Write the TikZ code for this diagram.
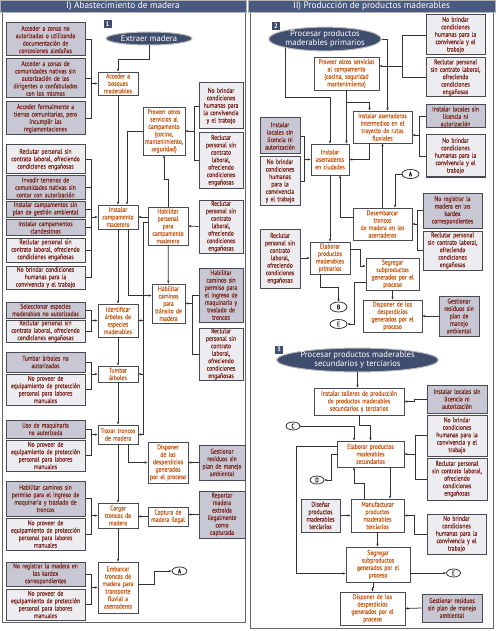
\documentclass[tikz,border=0pt]{standalone}
\usepackage{fontspec}
\setmainfont{PT Sans}
\newfontfamily\condfont{PT Sans}[FakeStretch=0.82, FakeBold=0.4]
\usetikzlibrary{arrows.meta, positioning, shapes.geometric, calc}
\definecolor{navy}{HTML}{3F4D6E}
\definecolor{hdrfill}{HTML}{4A5A7E}
\definecolor{dkfill}{HTML}{C8C8D4}
\definecolor{ltfill}{HTML}{ECECF1}
\definecolor{boxline}{HTML}{4A4A55}
\definecolor{lc}{HTML}{333333}
\definecolor{risk}{HTML}{7D2C22}
\definecolor{proc}{HTML}{C85E1C}
\newcommand\boxfont{\condfont\fontsize{6.9}{7.45}\selectfont}

\begin{document}
\begin{tikzpicture}[x=1pt, y=-1pt,
  base/.style={draw, inner xsep=0pt, inner ysep=0.3pt, align=center, font=\boxfont},
  dk/.style={base, fill=dkfill, draw=boxline, line width=1pt, text=risk},
  lt/.style={base, fill=ltfill, draw=boxline, line width=1pt, text=risk},
  pr/.style={base, fill=white, draw=boxline, line width=0.8pt, text=proc},
  sz/.style 2 args={text width=#1, minimum height=#2},
  ell/.style={ellipse, fill=navy, draw=gray!55, line width=1pt, text=white, inner sep=0pt,
    align=center, font=\fontsize{8.6}{9}\selectfont},
  circ/.style={ellipse, draw=lc, line width=0.8pt, fill=white, inner sep=0pt, text=black,
    font=\condfont\fontsize{6.5}{6.5}\selectfont},
  badge/.style={fill=navy, text=white, minimum size=8pt, inner sep=0pt,
    font=\bfseries\fontsize{6.5}{6.5}\selectfont},
  hdr/.style={fill=hdrfill, draw=gray!60, text=white, minimum height=12pt, inner sep=0pt,
    font=\fontsize{9.3}{10}\selectfont},
  frame/.style={draw=gray!80!black, line width=1pt},
  ln/.style={draw=lc, line width=0.75pt},
  arr/.style={ln, -{Stealth[length=3pt, width=2.4pt]}}
]
\useasboundingbox (0,0) rectangle (495,631);

% panels
\draw[frame] (2,0) rectangle (245,622);
\draw[frame] (250,0) rectangle (493,628);
\node[hdr, minimum width=246pt] (hI) at (123,6) {I) Abastecimiento de madera};
\node[hdr, minimum width=247pt] (hII) at (371.5,6) {II) Producción de productos maderables};

% ---------- I) Abastecimiento ----------
\node[badge] (n1) at (107.5,24.5) {1};
\node[ell, minimum width=86pt, minimum height=13pt] (ext) at (149,38.5) {Extraer madera};

\node[dk, sz={79pt}{33pt}] (lA1) at (45.5,39.5) {Acceder a zonas no\\autorizadas o utilizando\\documentación de\\concesiones aledañas};
\node[dk, sz={79pt}{39pt}] (lA2) at (45.5,78.5) {Acceder a zonas de\\comunidades nativas sin\\autorización de los\\dirigentes o confabulados\\con los mismos};
\node[dk, sz={79pt}{33pt}] (lA3) at (45.5,118.5) {Acceder formalmente a\\tierras comunitarias, pero\\incumplir las\\reglamentaciones};
\node[lt, sz={79pt}{29pt}] (lI1) at (45.5,159.5) {Reclutar personal sin\\contrato laboral, ofreciendo\\condiciones engañosas};
\node[dk, sz={79pt}{23pt}] (lI2) at (45.5,187.5) {Invadir terrenos de\\comunidades nativas sin\\contar con autorización};
\node[dk, sz={79pt}{16pt}] (lI3) at (45.5,209) {Instalar campamentos sin\\plan de gestión ambiental};
\node[dk, sz={79pt}{16pt}] (lI4) at (45.5,227.5) {Instalar campamentos\\clandestinos};
\node[lt, sz={79pt}{24pt}] (lI5) at (45.5,250) {Reclutar personal sin\\contrato laboral, ofreciendo\\condiciones engañosas};
\node[lt, sz={79pt}{23pt}] (lI6) at (45.5,277.5) {No brindar condiciones\\humanas para la\\convivencia y el trabajo};
\node[dk, sz={79pt}{16pt}] (lS1) at (45.5,310) {Seleccionar especies\\maderables no autorizadas};
\node[lt, sz={79pt}{22pt}] (lS2) at (45.5,331) {Reclutar personal sin\\contrato laboral, ofreciendo\\condiciones engañosas};
\node[dk, sz={79pt}{20pt}] (lT1) at (45.5,362) {Tumbar árboles no\\autorizados};
\node[lt, sz={79pt}{31pt}] (lT2) at (45.5,389.5) {No proveer de\\equipamiento de protección\\personal para labores\\manuales};
\node[dk, sz={79pt}{18pt}] (lZ1) at (45.5,429) {Uso de maquinaria\\no autorizada};
\node[lt, sz={79pt}{31pt}] (lZ2) at (45.5,455.5) {No proveer de\\equipamiento de protección\\personal para labores\\manuales};
\node[dk, sz={79pt}{35pt}] (lC1) at (45.5,498.5) {Habilitar caminos sin\\permiso para el ingreso de\\maquinaria y traslado de\\troncos};
\node[lt, sz={79pt}{32pt}] (lC2) at (45.5,534) {No proveer de\\equipamiento de protección\\personal para labores\\manuales};
\node[dk, sz={79pt}{24pt}] (lE1) at (45.5,574) {No registrar la madera en\\los kardex\\correspondientes};
\node[lt, sz={79pt}{31pt}] (lE2) at (45.5,604.5) {No proveer de\\equipamiento de protección\\personal para labores\\manuales};

\node[pr, sz={40pt}{23pt}] (acc) at (118,83.5) {Acceder a\\bosques\\maderables};
\node[pr, sz={40pt}{24pt}] (inst) at (118,217) {Instalar\\campamento\\maderero};
\node[pr, sz={40pt}{33pt}] (iden) at (118,320.5) {Identificar\\árboles de\\especies\\maderables};
\node[pr, sz={40pt}{16pt}] (tumb) at (118,374) {Tumbar\\árboles};
\node[pr, sz={40pt}{19pt}] (troz) at (118,434.5) {Trozar troncos\\de madera};
\node[pr, sz={40pt}{25pt}] (carg) at (118,515.5) {Cargar\\troncos de\\madera};
\node[pr, sz={40pt}{51pt}] (emb) at (118,587.5) {Embarcar\\troncos de\\madera para\\transporte\\fluvial a\\aserraderos};

\node[pr, sz={42pt}{48pt}] (prov) at (164,131) {Proveer otros\\servicios al\\campamento\\(cocina,\\mantenimiento,\\seguridad)};
\node[pr, sz={40pt}{38pt}] (hper) at (168,226) {Habilitar\\personal\\para\\campamento\\maderero};
\node[pr, sz={33pt}{39pt}] (hcam) at (168.5,303.5) {Habilitar\\caminos\\para\\tránsito de\\madera};
\node[pr, sz={40pt}{41pt}] (disp) at (168,462.5) {Disponer\\de los\\desperdicios\\generados\\por el proceso};
\node[pr, sz={40pt}{19pt}] (capt) at (168,516.5) {Captura de\\madera ilegal};
\node[circ, minimum width=15pt, minimum height=8pt] (cA) at (179.5,571) {A};

\node[lt, sz={44pt}{46pt}] (rP1) at (221,106) {No brindar\\condiciones\\humanas para\\la convivencia\\y el trabajo};
\node[lt, sz={44pt}{55pt}] (rP2) at (221,160.5) {Reclutar\\personal sin\\contrato\\laboral,\\ofreciendo\\condiciones\\engañosas};
\node[lt, sz={44pt}{53pt}] (rH) at (221,226.5) {Reclutar\\personal sin\\contrato\\laboral,\\ofreciendo\\condiciones\\engañosas};
\node[dk, sz={44pt}{54pt}] (rC1) at (221,295) {Habilitar\\caminos sin\\permiso para\\el ingreso de\\maquinaria y\\traslado de\\troncos};
\node[lt, sz={44pt}{52pt}] (rC2) at (221,354) {Reclutar\\personal sin\\contrato\\laboral,\\ofreciendo\\condiciones\\engañosas};
\node[dk, sz={46pt}{35pt}] (rD) at (222,462.5) {Gestionar\\residuos sin\\plan de manejo\\ambiental};
\node[dk, sz={46pt}{47pt}] (rR) at (222,514.5) {Reportar\\madera\\extraída\\ilegalmente\\como\\capturada};

% connectors I
\draw[arr] (ext.south) -- ++(0,14) -| (acc.north);
\draw[arr] (acc) -- (inst);
\draw[arr] (prov.west) -| ([xshift=9pt]inst.north);
\draw[arr] (hper.north) -- ++(0,-27) -| (prov.south);
\draw[arr] (hper.west |- inst) -- (inst.east);
\coordinate (vH) at (143,434.5);
\draw[ln] ($(hper.west)+(0,-4)$) -| (vH);
\draw[arr] (vH |- iden) -- (iden.east);
\draw[arr] (vH |- tumb) -- (tumb.east);
\draw[arr] (vH) -- (troz.east);
\draw[arr] (inst) -- (iden);
\draw[arr] ([xshift=10pt]inst.south) |- ($(hcam.west)+(0,-8)$);
\draw[arr] (hper) -- (hcam);
\draw[arr] (iden) -- (tumb);
\draw[arr] (tumb) -- (troz);
\draw[arr] (troz) -- (carg);
\draw[arr] (carg) -- (emb);
\draw[arr] ([xshift=10pt]troz.south) |- (disp.west);
\draw[arr] (rD.west) -- (disp.east);
\draw[arr] (capt.west) -- (capt.west -| carg.east);
\draw[arr] (rR.west) -- (rR.west -| capt.east);
\draw[arr] ($(emb.east)+(0,-3.5)$) -- ++(16,0) |- (cA.west);

% brackets I
\coordinate (bA) at ($(acc.west)+(-6,0)$);
\draw[ln] (lA1.east) -| (bA) |- (lA3.east);
\draw[ln] (lA2.east) -- (lA2.east -| bA);
\draw[arr] (bA) -- (acc.west);
\coordinate (bI) at ($(inst.west)+(-6,0)$);
\draw[ln] (lI1.east) -| (bI) |- (lI6.east);
\foreach \b in {lI2,lI3,lI4,lI5}
  \draw[ln] (\b.east) -- (\b.east -| bI);
\draw[arr] (bI) -- (inst.west);
\foreach \up/\dn/\tg in {lS1/lS2/iden, lT1/lT2/tumb, lZ1/lZ2/troz, lC1/lC2/carg, lE1/lE2/emb}{
  \coordinate (br) at ($(\tg.west)+(-6,0)$);
  \draw[ln] (\up.east) -| (br) |- (\dn.east);
  \draw[arr] (br) -- (\tg.west);
}
\coordinate (bP) at ($(prov.east)+(9,0)$);
\draw[ln] (rP1.west) -| (bP) |- (rP2.west);
\draw[arr] (bP) -- (prov.east);
\draw[arr] (rH.west) -- (hper.east);
\coordinate (bH) at ($(hcam.east)+(7,0)$);
\draw[ln] (rC1.west) -| (bH) |- (rC2.west);
\draw[arr] (bH) -- (hcam.east);

% ---------- II) Produccion ----------
\node[badge] (n2) at (276,26) {2};
\node[ell, minimum width=110pt, minimum height=22pt] (ext2) at (325,39) {Procesar productos\\maderables primarios};

\node[lt, sz={59pt}{40pt}] (sP1) at (455.5,35) {No brindar\\condiciones\\humanas para la\\convivencia y el\\trabajo};
\node[lt, sz={59pt}{39pt}] (sP2) at (455.5,77.5) {Reclutar personal\\sin contrato laboral,\\ofreciendo\\condiciones\\engañosas};
\node[pr, sz={65pt}{33pt}] (prov2) at (346.5,73.5) {Proveer otros servicios\\al campamento\\(cocina, seguridad\\mantenimiento)};
\node[pr, sz={59pt}{32pt}] (ints) at (382.5,127) {Instalar aserraderos\\intermedios en el\\trayecto de rutas\\fluviales};
\node[dk, sz={59pt}{23pt}] (sI1) at (455.5,116.5) {Instalar locales sin\\licencia ni\\autorización};
\node[lt, sz={59pt}{42pt}] (sI2) at (455.5,156) {No brindar\\condiciones\\humanas para la\\convivencia y el\\trabajo};
\node[dk, sz={40pt}{36pt}] (cL1) at (280,136) {Instalar\\locales sin\\licencia ni\\autorización};
\node[lt, sz={40pt}{48pt}] (cL2) at (280,181) {No brindar\\condiciones\\humanas\\para la\\convivencia\\y el trabajo};
\node[pr, sz={38pt}{31pt}] (inc) at (330,159.5) {Instalar\\aserraderos\\en ciudades};
\node[circ, minimum width=17pt, minimum height=9pt] (cA2) at (410.5,174) {A};
\node[pr, sz={59pt}{32pt}] (desm) at (382.5,224) {Desembarcar\\troncos\\de madera en los\\aserraderos};
\node[dk, sz={59pt}{35pt}] (sD1) at (452.5,210.5) {No registrar la\\madera en los\\kardex\\correspondientes};
\node[lt, sz={59pt}{39pt}] (sD2) at (452.5,250.5) {Reclutar personal\\sin contrato laboral,\\ofreciendo\\condiciones\\engañosas};
\node[lt, sz={40pt}{59pt}] (cR) at (280,258.5) {Reclutar\\personal sin\\contrato\\laboral,\\ofreciendo\\condiciones\\engañosas};
\node[pr, sz={40pt}{32pt}] (elab) at (330,258) {Elaborar\\productos\\maderables\\primarios};
\node[pr, sz={53pt}{32pt}] (seg) at (392.5,274) {Segregar\\subproductos\\generados por el\\proceso};
\node[circ, minimum width=17pt, minimum height=10pt] (cB) at (338.5,307) {B};
\node[circ, minimum width=17pt, minimum height=9pt] (cE) at (338.5,324) {E};
\node[pr, sz={59pt}{32pt}] (disp2) at (392.5,316) {Disponer de los\\desperdicios\\generados por el\\proceso};
\node[dk, sz={40pt}{40pt}] (sG) at (459,316) {Gestionar\\residuos sin\\plan de\\manejo\\ambiental};

\draw[arr] (ext2.south west) -- ++(0,50) -| (inc.north);
\draw[arr] (ext2.east) -| ([xshift=5pt]ints.north);
\coordinate (pj) at ($(prov2.south)+(0,12)$);
\draw[ln] (prov2.south) -- (pj);
\draw[arr] (pj) -| ([xshift=-13pt]ints.north);
\draw[arr] (pj) -- (pj |- inc.north);
\coordinate (bP2) at ($(prov2.east)+(23,-7.5)$);
\draw[ln] (sP1.west) -| (bP2) |- (sP2.west);
\draw[arr] (bP2) -- (bP2 -| prov2.east);
\coordinate (bI2) at ($(ints.east)+(7,8)$);
\draw[ln] (sI1.west) -| (bI2) |- (sI2.west);
\draw[arr] (bI2) -- (bI2 -| ints.east);
\coordinate (bL) at ($(inc.west)+(-6,0)$);
\draw[ln] (cL1.east) -| (bL) |- (cL2.east);
\draw[arr] (bL) -- (inc.west);
\draw[arr] ([xshift=-13pt]ints.south) |- (inc.east);
\draw[arr] (desm) -- (ints);
\draw[arr] (cA2.west) -| ([xshift=12.5pt]desm.north);
\coordinate (bD) at ($(desm.east)+(5,0)$);
\draw[ln] (sD1.west) -| (bD) |- (sD2.west);
\draw[arr] (bD) -- (desm.east);
\draw[arr] ($(desm.west)+(0,-7)$) -| ([xshift=10pt]inc.south);
\draw[arr] (inc) -- (elab);
\draw[arr] (cR.east |- elab) -- (elab.west);
\draw[arr] ($(elab.east)+(0,-9)$) -- ++(10,0) |- ($(seg.west)+(0,-8)$);
\draw[arr] ([xshift=-10pt]elab.south) -- ++(0,13) -| (cB.north);
\draw[arr] ($(seg.west)+(0,8)$) -- ++(-11,0) |- (cE.east);
\draw[arr] (seg) -- (disp2);
\draw[arr] (sG.west) -- (disp2.east);

% ---------- secundarios y terciarios ----------
\node[badge] (n3) at (279,349.5) {3};
\node[ell, minimum width=155pt, minimum height=21pt] (ext3) at (357.5,360) {Procesar productos maderables\\secundarios y terciarios};
\node[pr, sz={90pt}{27pt}] (tall) at (359,401.5) {Instalar talleres de producción\\de productos maderables\\secundarios y terciarios};
\node[dk, sz={60pt}{28pt}] (tL) at (457,399) {Instalar locales sin\\licencia ni\\autorización};
\node[circ, minimum width=14pt, minimum height=8pt] (cC) at (293,426) {C};
\node[pr, sz={67pt}{26pt}] (ela2) at (370.5,454) {Elaborar productos\\maderables\\secundarios};
\node[lt, sz={60pt}{41pt}] (eN1) at (457,435.5) {No brindar\\condiciones\\humanas para la\\convivencia y el\\trabajo};
\node[lt, sz={60pt}{42pt}] (eN2) at (457,479) {Reclutar personal\\sin contrato laboral,\\ofreciendo\\condiciones\\engañosas};
\node[circ, minimum width=14pt, minimum height=8pt] (cD) at (317,480) {D};
\node[lt, sz={39pt}{33pt}] (dis3) at (320.5,515.5) {Diseñar\\productos\\maderables\\terciarios};
\node[pr, sz={53pt}{33pt}] (man) at (377.5,515.5) {Manufacturar\\productos\\maderables\\terciarios};
\node[lt, sz={59pt}{40pt}] (mN) at (456.5,534) {No brindar\\condiciones\\humanas para la\\convivencia y el\\trabajo};
\node[pr, sz={64pt}{35pt}] (seg3) at (378,564.5) {Segregar\\subproductos\\generados por el\\proceso};
\node[circ, minimum width=14pt, minimum height=8pt] (cE3) at (453.5,573) {E};
\node[pr, sz={65pt}{33pt}] (dis4) at (372.5,608.5) {Disponer de los\\desperdicios\\generados por el\\proceso};
\node[dk, sz={60pt}{28pt}] (gG) at (452,608) {Gestionar residuos\\sin plan de manejo\\ambiental};

\draw[arr] (ext3.south) -- (ext3.south |- tall.north);
\draw[arr] (tL.west) -- ++(-12,0) |- (tall.east);
\draw[arr] (cC.east) -| ([xshift=-16.5pt]ela2.north);
\draw[arr] (tall.south) -- ++(0,10) -| (ela2.north);
\coordinate (bE2) at ($(ela2.east)+(11,0)$);
\draw[ln] (eN1.west) -| (bE2) |- (eN2.west);
\draw[arr] (bE2) -- (ela2.east);
\draw[arr] (ela2.west) -- ++(-5,0) |- (cD.east);
\draw[arr] ($(ela2.west)+(0,-8)$) -- ++(-40,0) |- ($(seg3.west)+(0,9)$);
\draw[arr] ([xshift=19.5pt]ela2.south) -- ([xshift=12.5pt]man.north);
\draw[arr] ([xshift=-13.5pt]man.north) -- ++(0,-15) -| ([xshift=-16.5pt]ela2.south);
\draw[arr] (dis3) -- (man);
\draw[arr] (mN.west) -- ++(-12,0) |- (man.east);
\draw[arr] (man.south) -- (man.south |- seg3.north);
\draw[arr] (seg3.east |- cE3) -- (cE3.west);
\draw[arr] ([xshift=-5pt]seg3.south) -- ++(0,5) -| (dis4.north);
\draw[arr] (gG.west) -- (dis4.east);
\end{tikzpicture}
\end{document}
